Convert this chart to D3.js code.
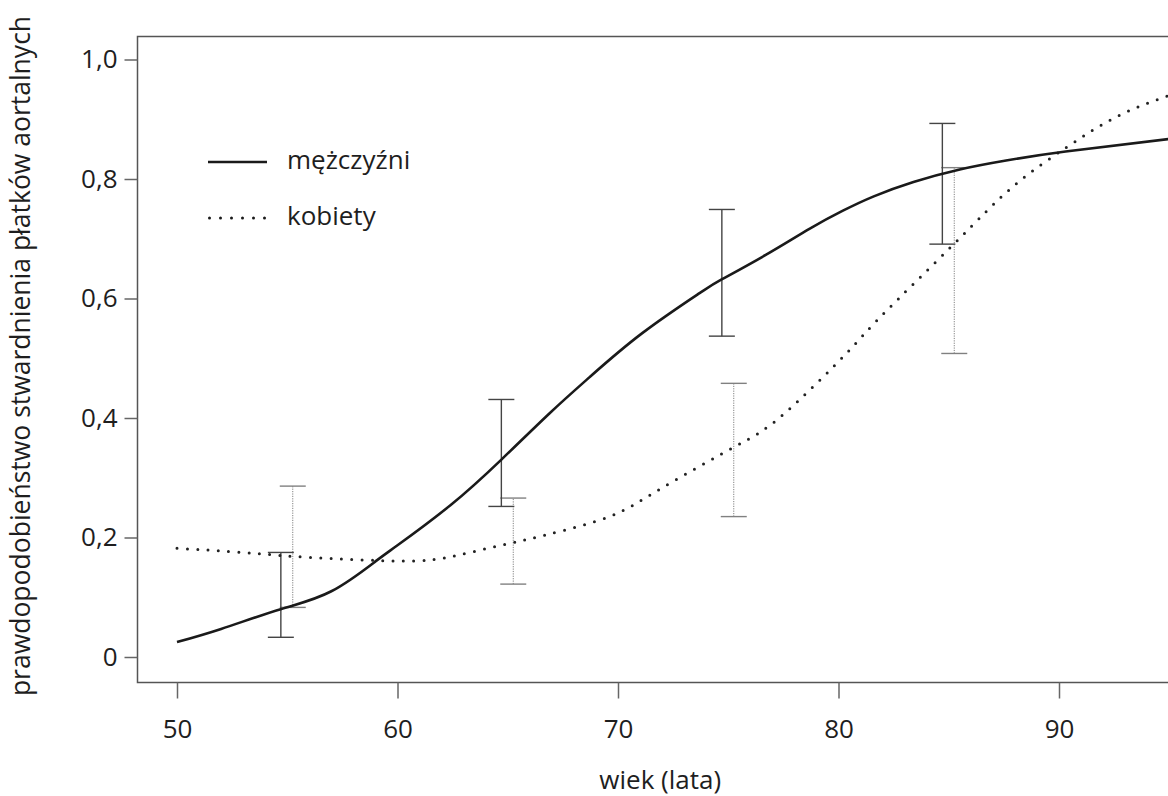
<!DOCTYPE html>
<html>
<head>
<meta charset="utf-8">
<script src="https://cdn.jsdelivr.net/npm/d3@7"></script>
<style>
  body { margin: 0; background: #fff; }
  text { font-family: 'Open Sans', sans-serif; fill: #1e1e1e; }
</style>
</head>
<body>
<div id="chart-container"></div>
<script>
// Data
const menAges = [50, 52, 54.7, 57, 59, 60, 62.4, 64.7, 66.9, 68.7, 71.1, 73.7, 74.7, 76.7, 78.7, 80.2, 81.6, 83.4, 85.5, 87.6, 90.3, 95]
const menValues = [0.025, 0.047, 0.08, 0.11, 0.16, 0.187, 0.254, 0.33, 0.408, 0.468, 0.542, 0.609, 0.632, 0.673, 0.717, 0.747, 0.771, 0.795, 0.816, 0.831, 0.846, 0.867]

const womenAges = [50, 53, 55, 57, 59.5, 61.6, 63.4, 65.2, 66.8, 69.6, 72, 75.3, 77.5, 80.3, 82, 85.2, 87.9, 90.3, 92.6, 95]
const womenValues = [0.182, 0.175, 0.169, 0.165, 0.161, 0.163, 0.176, 0.191, 0.205, 0.235, 0.283, 0.352, 0.406, 0.506, 0.573, 0.69, 0.787, 0.852, 0.904, 0.94]

const groupAges = [55, 65, 75, 85]
const menLower = [0.033, 0.252, 0.537, 0.691]
const menUpper = [0.175, 0.431, 0.749, 0.893]
const womenLower = [0.083, 0.122, 0.235, 0.508]
const womenUpper = [0.286, 0.266, 0.458, 0.819]

const xTicks = [50, 60, 70, 80, 90]
const yTicks = [0, 0.2, 0.4, 0.6, 0.8, 1.0]
const yTickLabels = ['0', '0,2', '0,4', '0,6', '0,8', '1,0']
const seriesNames = ['mężczyźni', 'kobiety']

width = 1168
height = 796

const box = { left: 137.5, top: 36.5, bottom: 682.5, right: 1183 }

// Scales
let xScale = d3.scaleLinear()
    .domain([50, 70])
    .range([177, 618])

let yScale = d3.scaleLinear()
    .domain([0, 1])
    .range([657, 59.5])

const svg = d3.select('#chart-container')
    .append('svg')
    .attr('width', width)
    .attr('height', height)

// Frame (right side runs off the page)
svg.append('rect')
    .attr('x', box.left)
    .attr('y', box.top)
    .attr('width', box.right - box.left)
    .attr('height', box.bottom - box.top)
    .attr('fill', 'none')
    .attr('stroke', '#555')
    .attr('stroke-width', 1.5)

// Axes
let xAxis = d3.axisBottom(xScale)
    .tickValues(xTicks)
    .tickSize(16)
    .tickPadding(21)
    .tickSizeOuter(0)
svg.append('g')
    .attr('transform', 'translate(0,' + box.bottom + ')')
    .call(xAxis)

let yAxis = d3.axisLeft(yScale)
    .tickValues(yTicks)
    .tickFormat((d, i) => yTickLabels[i])
    .tickSize(13)
    .tickPadding(7)
    .tickSizeOuter(0)
svg.append('g')
    .attr('transform', 'translate(' + box.left + ',0)')
    .call(yAxis)

svg.selectAll('.domain').remove()
svg.selectAll('.tick line').attr('stroke', '#666').attr('stroke-width', 1.5)
svg.selectAll('.tick text').attr('font-size', '26px').attr('font-family', null).attr('fill', '#1e1e1e')

svg.append('text')
    .attr('x', (box.left + box.right) / 2)
    .attr('y', 789)
    .attr('text-anchor', 'middle')
    .attr('font-size', '26px')
    .text('wiek (lata)')

svg.append('text')
    .attr('transform', 'translate(30,356) rotate(-90)')
    .attr('text-anchor', 'middle')
    .attr('font-size', '26.5px')
    .text('prawdopodobieństwo stwardnienia płatków aortalnych')

// Error bars
const capHalf = 13
const menDodge = -0.29
const womenDodge = 0.25

function errorBars(lower, upper, offset, color, dash, cls) {
    const items = svg.append('g')
        .attr('class', cls)
        .selectAll('g')
        .data(groupAges)
        .enter()
        .append('g')
    items.append('line')
        .attr('x1', d => xScale(d + offset))
        .attr('x2', d => xScale(d + offset))
        .attr('y1', (d, i) => yScale(lower[i]))
        .attr('y2', (d, i) => yScale(upper[i]))
        .attr('stroke', color)
        .attr('stroke-width', dash ? 1 : 1.4)
        .attr('stroke-dasharray', dash)
    ;[lower, upper].forEach(arr => {
        items.append('line')
            .attr('x1', d => xScale(d + offset) - capHalf)
            .attr('x2', d => xScale(d + offset) + capHalf)
            .attr('y1', (d, i) => yScale(arr[i]))
            .attr('y2', (d, i) => yScale(arr[i]))
            .attr('stroke', color)
            .attr('stroke-width', 1.4)
    })
}

errorBars(womenLower, womenUpper, womenDodge, '#808080', '1.2,1.2', 'bars-women')
errorBars(menLower, menUpper, menDodge, '#444', null, 'bars-men')

// Curves
const line = d3.line()
    .x(d => xScale(d[0]))
    .y(d => yScale(d[1]))
    .curve(d3.curveNatural)

svg.append('path')
    .datum(womenAges.map((a, i) => [a, womenValues[i]]))
    .attr('d', line)
    .attr('fill', 'none')
    .attr('stroke', '#222')
    .attr('stroke-width', 3)
    .attr('stroke-linecap', 'round')
    .attr('stroke-dasharray', '0,10.3')

svg.append('path')
    .datum(menAges.map((a, i) => [a, menValues[i]]))
    .attr('d', line)
    .attr('fill', 'none')
    .attr('stroke', '#1a1a1a')
    .attr('stroke-width', 2.6)

// Legend
const legend = svg.append('g')
    .attr('transform', 'translate(208, 162)')

const legendItems = legend.selectAll('.legend-item')
    .data(seriesNames)
    .enter()
    .append('g')
    .attr('class', 'legend-item')
    .attr('transform', (d, i) => `translate(0, ${i * 56})`)

legendItems.append('line')
    .attr('x1', (d, i) => i === 0 ? 0 : 1.5)
    .attr('x2', 59)
    .attr('stroke', '#1a1a1a')
    .attr('stroke-width', (d, i) => i === 0 ? 2.6 : 3)
    .attr('stroke-linecap', (d, i) => i === 0 ? 'butt' : 'round')
    .attr('stroke-dasharray', (d, i) => i === 0 ? null : '0,11')

legendItems.append('text')
    .attr('x', 79)
    .attr('y', 0)
    .attr('dy', '0.28em')
    .attr('font-size', '26px')
    .text(d => d)
</script>
</body>
</html>
